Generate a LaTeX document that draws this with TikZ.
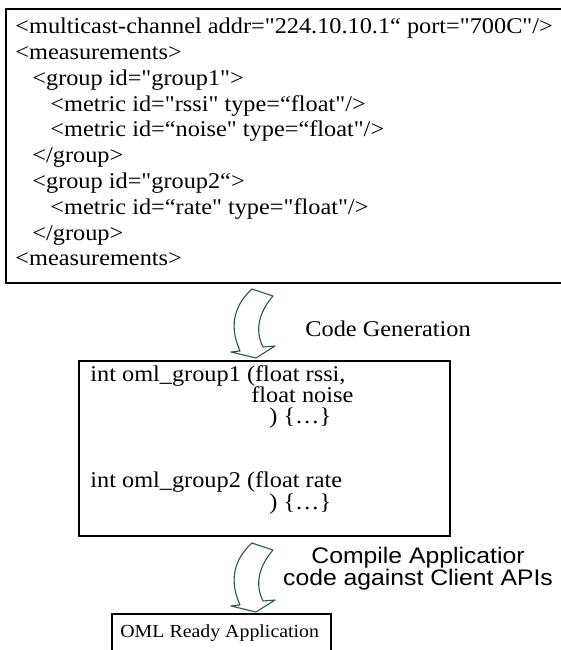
\documentclass[tikz,border=0pt]{standalone}
\usepackage{fontspec}
\setmainfont{Liberation Serif}[FakeStretch=1.08, Ligatures=TeXOff]
\newfontfamily\capsans{Liberation Sans}[FakeStretch=1.1]
\usetikzlibrary{positioning}
\definecolor{arrowgreen}{RGB}{40,90,60}
\tikzset{
  box/.style={draw, line width=1pt, inner sep=0pt, anchor=north west},
  txt/.style={anchor=base west, inner sep=0pt, font=\fontsize{11.25}{12}\selectfont},
  sanstxt/.style={anchor=base, inner sep=0pt, font=\capsans\fontsize{11.25}{12}\selectfont},
  % hollow bent arrow between two boxes
  bendarrow/.pic={
    \draw[arrowgreen, line width=0.55pt, line join=round] (0,0) -- (21,7)
      .. controls (8,22) and (2,40) .. (11,58) -- (23,57) -- (4,69) -- (-21,63) -- (-12,62)
      .. controls (-22,40) and (-20,18) .. cycle;
  }
}
\begin{document}
\begin{tikzpicture}[x=0.5pt,y=-0.5pt]
\useasboundingbox (0,0) rectangle (561,650);
\clip (0,0) rectangle (561,650);
% measurement description
\node[box, minimum width=300pt, minimum height=137pt] (xml) at (5,8) {};
\node[txt] (l1) at (15,33) {<multicast-channel addr="224.10.10.1“ port="700C"/>};
\node[txt] (l2) at (15,59) {<measurements>};
\node[txt] (l3) at (32,85) {<group id="group1">};
\node[txt] (l4) at (50,111) {<metric id="rssi" type=“float"/>};
\node[txt] (l5) at (50,136) {<metric id=“noise" type=“float"/>};
\node[txt] (l6) at (32,162) {</group>};
\node[txt] (l7) at (32,188) {<group id="group2“>};
\node[txt] (l8) at (50,214) {<metric id=“rate" type="float"/>};
\node[txt] (l9) at (32,240) {</group>};
\node[txt] (l10) at (15,265) {<measurements>};
% generated stubs
\node[box, minimum width=185.5pt, minimum height=87.5pt] (stubs) at (78,360) {};
\node[txt] (s1) at (90,381) {int oml\_group1 (float rssi,};
\node[txt] (s2) at (251,402) {float noise};
\node[txt] (s3) at (269,423) {) \{…\}};
\node[txt] (s4) at (90,487) {int oml\_group2 (float rate};
\node[txt] (s5) at (269,509) {) \{…\}};
% final application
\node[box, minimum width=109.5pt, minimum height=40pt] (app) at (111,613) {};
\node[txt, font=\fontsize{9.2}{12}\selectfont] (a1) at (120,637) {OML Ready Application};
% steps
\pic at ([shift={(247,5)}]xml.south west) {bendarrow};
\pic at ([shift={(174,6)}]stubs.south west) {bendarrow};
\node[txt] (gen) at (305,336) {Code Generation};
\node[sanstxt] (comp1) at (418,563) {Compile Applicatior};
\node[sanstxt] (comp2) at (418,585) {code against Client APIs};
\end{tikzpicture}
\end{document}
